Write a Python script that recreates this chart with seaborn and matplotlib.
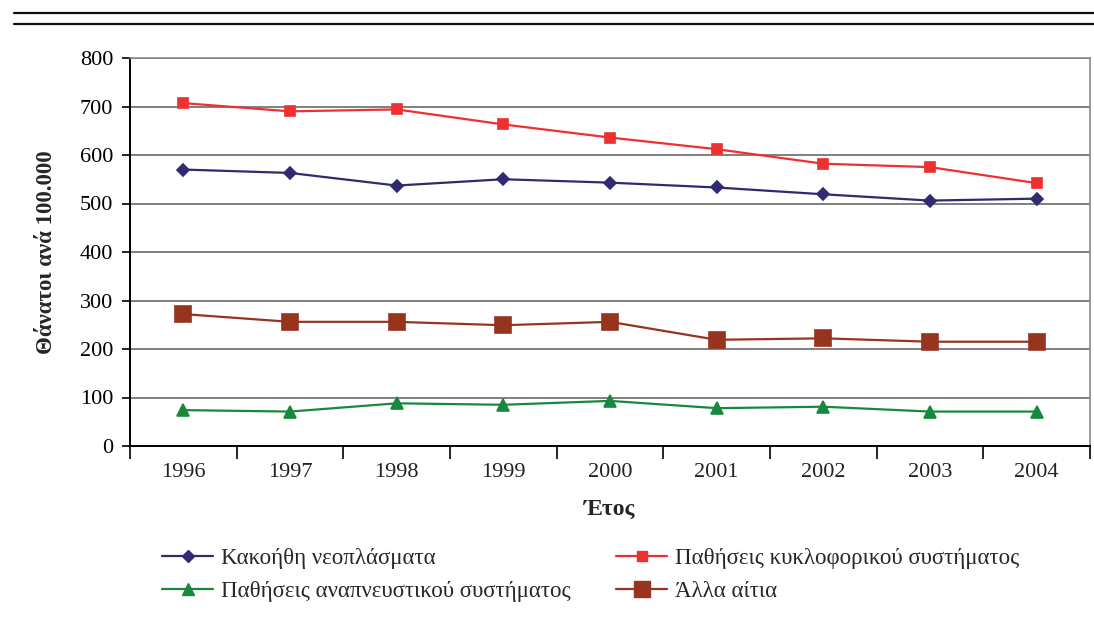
import numpy as np
import pandas as pd
import matplotlib.pyplot as plt
from matplotlib.lines import Line2D
from matplotlib.ticker import FixedLocator
import seaborn as sns

years = ['1996', '1997', '1998', '1999', '2000', '2001', '2002', '2003', '2004']
kakoithi = [570, 563, 537, 550, 543, 533, 519, 506, 510]
kykloforiko = [707, 690, 694, 663, 636, 612, 582, 575, 542]
anapneustiko = [74, 71, 88, 85, 93, 78, 81, 71, 71]
alla = [272, 256, 256, 249, 256, 219, 222, 215, 215]

labels = ['Κακοήθη νεοπλάσματα', 'Παθήσεις κυκλοφορικού συστήματος',
          'Παθήσεις αναπνευστικού συστήματος', 'Άλλα αίτια']
colors = ['#2f2a72', '#ee3030', '#18893c', '#963420']
markers = ['D', 's', '^', 's']
msizes = [6, 7.5, 8.5, 12]

sns.set_style('white')
plt.rcParams['font.family'] = ['Liberation Serif', 'DejaVu Serif']

fig = plt.figure(figsize=(10.94, 6.29), dpi=100)
ax = fig.add_axes([130/1094, 1-446/629, 960/1094, 388/629])

series = [kakoithi, kykloforiko, anapneustiko, alla]
handles = []
for vals, c, m, ms, lab in zip(series, colors, markers, msizes, labels):
    sns.pointplot(x=years, y=vals, color=c, markers=m, linestyles='-',
                  markersize=ms, linewidth=1.6, errorbar=None, ax=ax)
    handles.append(Line2D([], [], color=c, marker=m, markersize=ms, lw=1.6, label=lab))

ax.set_ylim(0, 800)
ax.set_xlim(-0.5, len(years) - 0.5)
ax.set_yticks(range(0, 801, 100))
ax.grid(axis='y', color='#6a6a6a', lw=1.2)
ax.grid(axis='x', visible=False)
ax.set_axisbelow(True)

for s in ['left', 'bottom']:
    ax.spines[s].set_color('black')
    ax.spines[s].set_linewidth(1.4)
for s in ['top', 'right']:
    ax.spines[s].set_color('#8a8a8a')
    ax.spines[s].set_linewidth(1.2)

ax.xaxis.set_minor_locator(FixedLocator(np.arange(-0.5, len(years), 1.0)))
ax.tick_params(axis='x', which='major', length=0, labelsize=16, pad=12, colors='#222222')
ax.tick_params(axis='x', which='minor', length=9, width=1.2, direction='out', color='black', bottom=True)
ax.tick_params(axis='y', length=6, width=1.2, direction='out', left=True, labelsize=16,
               pad=6, colors='#222222')
ax.tick_params(axis='y', colors='black', which='major')

ax.set_xlabel('Έτος', fontsize=17, fontweight='bold', labelpad=12)
ax.set_ylabel('Θάνατοι ανά 100.000', fontsize=16.5, fontweight='bold')
ax.yaxis.set_label_coords(-0.076, 0.5)

order = [0, 2, 1, 3]
fig.legend([handles[i] for i in order], [labels[i] for i in order], ncol=2,
           loc='center', bbox_to_anchor=(0.54, 0.086), frameon=False, fontsize=16.5,
           handlelength=2.2, columnspacing=2.0, labelspacing=0.55, handletextpad=0.35)

# two rules at the top of the page
for yy in [13, 24]:
    fig.add_artist(Line2D([14/1094, 1], [1-yy/629, 1-yy/629], color='#111111', lw=1.6,
                          transform=fig.transFigure))

fig.savefig('out.png', dpi=100)
